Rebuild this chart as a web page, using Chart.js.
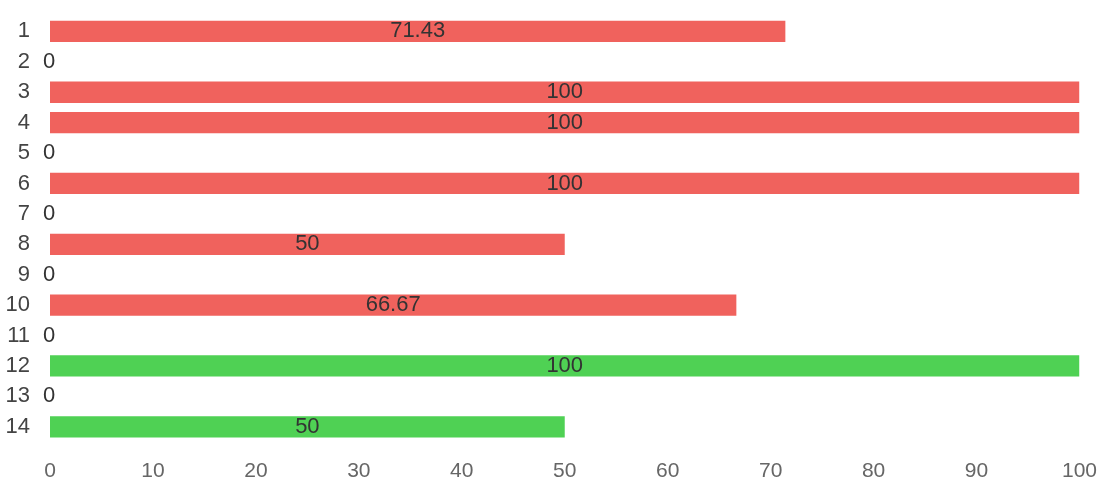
<!DOCTYPE html>
<html><head><meta charset="utf-8">
<script src="https://cdn.jsdelivr.net/npm/chart.js@4"></script>
<style>html,body{margin:0;padding:0;background:#fff;overflow:hidden;}#outer{width:1114px;height:491px;overflow:hidden;position:relative;}#wrap{position:absolute;left:0;top:-17px;width:1114px;height:508px;}</style>
</head><body><div id="outer"><div id="wrap"><canvas id="c"></canvas></div></div>
<script>
const categories = ['1','2','3','4','5','6','7','8','9','10','11','12','13','14'];
const values = [71.43, 0, 100, 100, 0, 100, 0, 50, 0, 66.67, 0, 100, 0, 50];
const barColors = ['#f0625d','#f0625d','#f0625d','#f0625d','#f0625d','#f0625d','#f0625d','#f0625d','#f0625d','#f0625d','#f0625d','#4fd154','#4fd154','#4fd154'];
const xTicks = [0,10,20,30,40,50,60,70,80,90,100];

const FONT = '"Liberation Sans", Arial, sans-serif';
const labelPlugin = {
  id: 'valueLabels',
  afterDatasetsDraw(chart) {
    const ctx = chart.ctx;
    const meta = chart.getDatasetMeta(0);
    ctx.save();
    ctx.font = '22px ' + FONT;
    ctx.fillStyle = '#333';
    ctx.textBaseline = 'middle';
    meta.data.forEach((bar, i) => {
      const v = values[i];
      if (v === 0) {
        ctx.textAlign = 'left';
        ctx.fillText('0', bar.base - 7, bar.y);
      } else {
        ctx.textAlign = 'center';
        ctx.fillText(String(v), (bar.base + bar.x) / 2, bar.y);
      }
    });
    ctx.restore();
  }
};

new Chart(document.getElementById('c'), {
  type: 'bar',
  data: { labels: categories, datasets: [{ data: values, backgroundColor: barColors, barPercentage: 0.7, categoryPercentage: 1.0 }] },
  options: {
    indexAxis: 'y',
    responsive: true,
    maintainAspectRatio: false,
    animation: false,
    layout: { padding: { top: 4, right: 8, left: 0, bottom: 0 } },
    plugins: { legend: { display: false }, tooltip: { enabled: false } },
    scales: {
      x: {
        min: 0, max: 100,
        afterBuildTicks: (ax) => { ax.ticks = xTicks.map(v => ({ value: v })); },
        afterFit: (s) => { s.height = 49; },
        grid: { display: false, drawTicks: false },
        border: { display: false },
        ticks: { color: '#666', font: { size: 21, family: FONT }, padding: 17, maxRotation: 0 }
      },
      y: {
        afterFit: (s) => { s.width = 50; },
        grid: { display: false, drawTicks: false },
        border: { display: false },
        ticks: { color: '#444', font: { size: 22, family: FONT }, padding: 20, autoSkip: false }
      }
    }
  },
  plugins: [labelPlugin]
});
</script></body></html>
